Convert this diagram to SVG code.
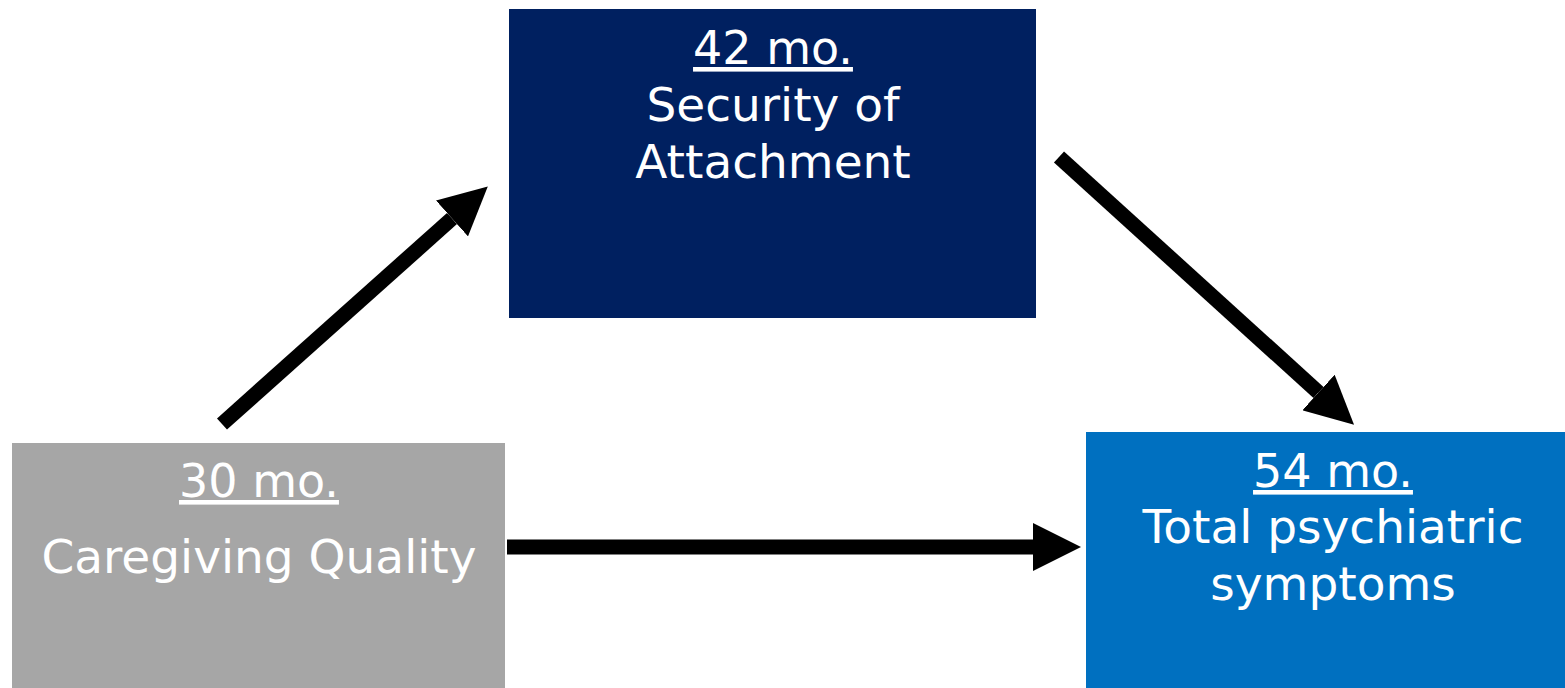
<svg xmlns="http://www.w3.org/2000/svg" width="1565" height="688" viewBox="0 0 1565 688">
<style>
  .lbl { font-family: "DejaVu Sans", "Liberation Sans", sans-serif; font-size: 47px; fill: #ffffff; text-anchor: middle; }
  .u { text-decoration: underline; font-size: 46px; }
  .conn { stroke: #000000; stroke-width: 15; fill: none; }
</style>
<defs>
  <marker id="head" markerUnits="userSpaceOnUse" viewBox="0 0 48 48" markerWidth="48" markerHeight="48" refX="0" refY="24" orient="auto">
    <path d="M0,0 L48,24 L0,48 Z" fill="#000000"/>
  </marker>
</defs>
<rect width="1565" height="688" fill="#ffffff"/>
<g id="node-attachment">
  <rect x="509" y="9" width="527" height="309" fill="#002060"/>
  <text class="lbl u" x="773" y="64">42 mo.</text>
  <text class="lbl" x="773" y="121">Security of</text>
  <text class="lbl" x="773" y="178">Attachment</text>
</g>
<g id="node-caregiving">
  <rect x="12" y="443" width="493" height="245" fill="#A6A6A6"/>
  <text class="lbl u" x="259" y="497">30 mo.</text>
  <text class="lbl" x="259" y="573">Caregiving Quality</text>
</g>
<g id="node-symptoms">
  <rect x="1086" y="432" width="479" height="256" fill="#0070C0"/>
  <text class="lbl u" x="1333" y="487">54 mo.</text>
  <text class="lbl" x="1333" y="543">Total psychiatric</text>
  <text class="lbl" x="1333" y="600">symptoms</text>
</g>
<g id="connectors">
  <line class="conn" x1="222" y1="424" x2="452" y2="218.5" marker-end="url(#head)"/>
  <line class="conn" x1="1059" y1="157" x2="1318.5" y2="392.5" marker-end="url(#head)"/>
  <line class="conn" x1="507" y1="547" x2="1033" y2="547" marker-end="url(#head)"/>
</g>
</svg>
